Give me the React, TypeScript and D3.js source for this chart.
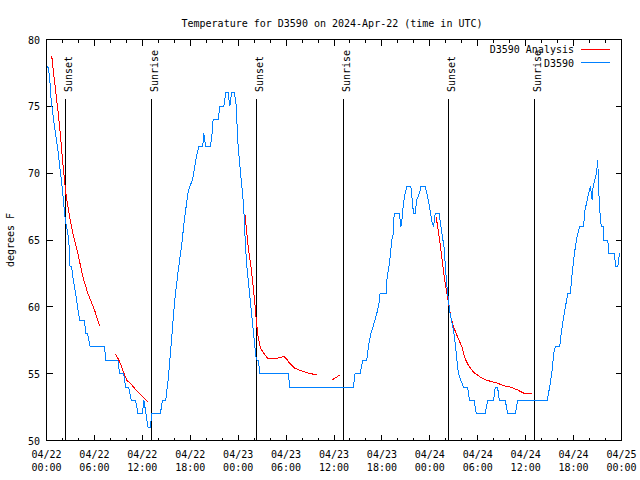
import React from 'react';
import * as d3 from 'd3';

// Hours since 2024-04-22 00:00 UTC, temperature in °F
const D3590_OBS: [number, number][] = [
  [0.16, 78], [0.38, 77.25], [0.59, 75.4], [1.0, 73.5], [1.42, 71.75], [1.76, 70], [2.04, 68.5],
  [2.17, 67.6], [2.35, 66.5], [2.67, 65.5], [2.89, 64.2], [2.95, 63], [3.14, 63], [3.3, 62.25],
  [3.64, 61], [3.8, 60.4], [4.14, 59], [4.77, 59], [4.89, 58], [5.14, 58], [5.48, 57], [7.28, 57],
  [7.4, 56], [8.94, 56], [9.16, 55], [9.66, 55], [9.91, 54], [10.29, 54], [10.62, 53], [11.16, 53],
  [11.45, 52], [12.0, 52], [12.2, 53], [12.71, 51], [13.01, 51], [13.17, 52], [14.26, 52],
  [14.51, 53], [14.93, 53], [15.22, 54.5], [15.52, 56.5], [15.77, 58.4], [16.06, 60.5],
  [16.47, 62.6], [16.9, 64.5], [17.31, 66.75], [17.72, 68.5], [17.94, 69], [18.28, 69.5],
  [18.56, 70.5], [18.78, 71.25], [19.1, 72], [19.57, 72], [19.69, 73], [19.94, 72], [20.53, 72],
  [20.79, 73.25], [20.86, 74], [21.49, 74], [21.7, 75], [22.2, 75], [22.45, 76], [22.74, 76],
  [22.96, 75], [23.17, 76], [23.5, 76], [23.71, 75.4], [24.0, 72], [24.3, 70], [24.55, 68.5],
  [24.71, 67.25], [24.84, 65.5], [25.05, 63.25], [25.38, 61.25], [25.68, 59.5], [25.97, 57.75],
  [26.22, 56.25], [26.38, 56], [26.53, 56], [26.72, 55], [30.27, 55], [30.48, 54], [38.42, 54],
  [38.63, 55], [39.26, 55], [39.6, 56], [40.1, 56], [40.3, 57], [40.6, 58], [40.93, 58.6],
  [41.36, 59.5], [41.68, 60.4], [41.77, 61], [42.52, 61], [42.61, 62], [42.94, 63.25],
  [43.24, 65], [43.44, 65.5], [43.53, 67], [44.19, 67], [44.37, 66], [44.53, 66.6], [44.7, 67.75],
  [44.91, 68.5], [45.12, 69], [45.62, 69], [45.75, 68.25], [45.95, 67], [46.16, 67], [46.37, 68],
  [46.7, 68.5], [46.88, 69], [47.42, 69], [47.63, 68.5], [47.95, 67.5], [48.26, 66.4],
  [48.46, 66], [48.67, 67], [49.17, 67], [49.39, 66], [49.64, 65], [49.8, 64.4], [49.92, 63.25],
  [50.14, 61.5], [50.34, 60.5], [50.46, 59.75], [50.68, 59.1], [50.97, 58.25], [51.18, 57.25],
  [51.39, 56], [51.59, 55], [51.89, 54.5], [52.22, 54], [52.72, 54], [52.97, 53], [53.56, 53],
  [53.81, 52], [54.94, 52], [55.23, 53], [55.98, 53], [56.19, 54], [56.48, 54], [56.7, 53],
  [57.45, 53], [57.74, 52], [58.71, 52], [58.99, 53], [62.68, 53], [63.01, 54], [63.31, 55.25],
  [63.51, 56.5], [63.72, 57], [64.26, 57], [64.44, 58], [64.69, 59], [64.98, 60], [65.27, 61],
  [65.6, 61], [65.82, 62.5], [66.1, 64], [66.44, 65.25], [66.77, 66], [67.27, 66], [67.36, 67],
  [67.7, 68], [68.11, 69], [68.33, 68], [68.45, 69], [68.87, 70], [69.03, 71], [69.12, 69],
  [69.28, 67.25], [69.46, 66], [69.71, 66], [69.78, 65], [70.28, 65], [70.41, 64], [71.12, 64],
  [71.25, 63], [71.54, 63], [71.75, 64],
];

// Analysis series; NaN marks a gap
const D3590_ANALYSIS: [number, number][] = [
  [0.66, 78.75], [0.88, 77.5], [1.13, 76.25], [1.42, 74.75], [1.72, 73], [1.97, 71.25],
  [2.17, 70], [2.47, 68.25], [2.89, 66.75], [3.3, 65.5], [3.93, 64], [4.55, 62.25], [5.18, 61],
  [6.02, 59.75], [6.65, 58.6],
  [7.5, NaN],
  [8.66, 56.45], [9.16, 55.9], [9.66, 55.1], [10.07, 54.5], [10.62, 54.2], [11.25, 53.75],
  [12.08, 53.25], [12.71, 52.9],
  [18, NaN],
  [24.84, 66.95], [25.05, 65.75], [25.25, 64.5], [25.55, 63.25], [25.8, 62], [26.09, 60.25],
  [26.3, 58.75], [26.5, 57.75], [26.81, 56.9], [27.35, 56.4], [27.76, 56.1], [28.39, 56.1],
  [29.23, 56.2], [29.73, 56.3], [30.07, 56.1], [30.48, 55.75], [31.11, 55.4], [31.95, 55.2],
  [32.78, 55.05], [33.83, 54.9],
  [34.8, NaN],
  [35.79, 54.55], [36.34, 54.75], [36.75, 54.9],
  [42, NaN],
  [48.8, 66.7], [49.08, 65.6], [49.39, 64.25], [49.64, 63], [49.92, 61.75], [50.14, 61],
  [50.34, 60.25], [50.64, 59.2], [50.97, 58.5], [51.47, 57.75], [52.02, 57], [52.43, 56.1],
  [52.85, 55.6], [53.48, 55.1], [54.32, 54.75], [55.16, 54.5], [56.41, 54.3], [57.24, 54.1],
  [58.08, 54], [58.92, 53.8], [59.75, 53.55], [60.8, 53.5],
];

const SUNSET_HOURS = [2.38, 26.3, 50.34];
const SUNRISE_HOURS = [13.15, 37.19, 61.1];

const TITLE = 'Temperature for D3590 on 2024-Apr-22 (time in UTC)';
const Y_LABEL = 'degrees F';
const SERIES_NAMES = ['D3590 Analysis', 'D3590'];
const SERIES_COLORS = ['#ff0000', '#0080ff'];
const Y_TICKS = [50, 55, 60, 65, 70, 75, 80];

const START = Date.UTC(2024, 3, 22, 0, 0);
const END = Date.UTC(2024, 3, 25, 0, 0);
const toDate = (h: number) => new Date(START + h * 3600 * 1000);

const FONT = "'DejaVu Sans Mono', 'Liberation Mono', monospace";

export default function App() {
  const L = 46.5, R = 621.5, T = 39.5, B = 440.5;
  const x = d3.scaleUtc().domain([new Date(START), new Date(END)]).range([L, R]);
  const y = d3.scaleLinear().domain([50, 80]).range([B, T]);

  const major = x.ticks(d3.utcHour.every(6)!);
  const minorAll = x.ticks(d3.utcHour.every(2)!);
  const minor = minorAll.filter((d) => d.getUTCHours() % 6 !== 0);

  const line = d3
    .line<[number, number]>()
    .defined((d) => !isNaN(d[1]))
    .x((d) => x(toDate(d[0])))
    .y((d) => y(d[1]));

  const fmtDate = d3.utcFormat('%m/%d');
  const fmtTime = d3.utcFormat('%H:%M');
  const snap = (v: number) => Math.floor(v) + 0.5;

  const events = [
    ...SUNSET_HOURS.map((h) => ({ h, label: 'Sunset' })),
    ...SUNRISE_HOURS.map((h) => ({ h, label: 'Sunrise' })),
  ];

  return (
    <svg
      width={640}
      height={480}
      style={{ position: 'absolute', left: 0, top: 0, background: '#fff' }}
      fontFamily={FONT}
      fontSize={10}
    >
      <rect x={0} y={0} width={640} height={480} fill="#fff" />
      <text x={332} y={27} textAnchor="middle" fill="#000">
        {TITLE}
      </text>

      {/* y ticks and labels */}
      {Y_TICKS.map((v) => (
        <g key={'y' + v}>
          <line x1={L} x2={L + 6} y1={snap(y(v))} y2={snap(y(v))} stroke="#000" shapeRendering="crispEdges" />
          <line x1={R} x2={R - 6} y1={snap(y(v))} y2={snap(y(v))} stroke="#000" shapeRendering="crispEdges" />
          <text x={40} y={y(v) + 4} textAnchor="end" fill="#000">
            {v}
          </text>
        </g>
      ))}

      {/* x ticks */}
      {major.map((d, i) => {
        const px = snap(x(d));
        return (
          <g key={'xm' + i}>
            <line x1={px} x2={px} y1={B} y2={B - 6} stroke="#000" shapeRendering="crispEdges" />
            <line x1={px} x2={px} y1={T} y2={T + 6} stroke="#000" shapeRendering="crispEdges" />
            <text x={x(d)} y={458} textAnchor="middle" fill="#000">
              {fmtDate(d)}
            </text>
            <text x={x(d)} y={471} textAnchor="middle" fill="#000">
              {fmtTime(d)}
            </text>
          </g>
        );
      })}
      {minor.map((d, i) => {
        const px = snap(x(d));
        return (
          <g key={'xn' + i}>
            <line x1={px} x2={px} y1={B} y2={B - 3} stroke="#000" shapeRendering="crispEdges" />
            <line x1={px} x2={px} y1={T} y2={T + 3} stroke="#000" shapeRendering="crispEdges" />
          </g>
        );
      })}

      {/* y label */}
      <text transform={`translate(14,240) rotate(-90)`} textAnchor="middle" fill="#000">
        {Y_LABEL}
      </text>

      {/* sun events */}
      {events.map((e, i) => {
        const px = snap(x(toDate(e.h)));
        return (
          <g key={'ev' + i}>
            <line x1={px} x2={px} y1={99} y2={B} stroke="#000" shapeRendering="crispEdges" />
            <text transform={`translate(${px + 6},92) rotate(-90)`} textAnchor="start" fill="#000">
              {e.label}
            </text>
          </g>
        );
      })}

      {/* data */}
      <path d={line(D3590_ANALYSIS) || ''} fill="none" stroke={SERIES_COLORS[0]} strokeWidth={1} shapeRendering="crispEdges" />
      <path d={line(D3590_OBS) || ''} fill="none" stroke={SERIES_COLORS[1]} strokeWidth={1} shapeRendering="crispEdges" />

      {/* legend */}
      <text x={574} y={53} textAnchor="end" fill="#000">
        {SERIES_NAMES[0]}
      </text>
      <line x1={581} x2={610} y1={49.5} y2={49.5} stroke={SERIES_COLORS[0]} shapeRendering="crispEdges" />
      <text x={574} y={66.5} textAnchor="end" fill="#000">
        {SERIES_NAMES[1]}
      </text>
      <line x1={581} x2={610} y1={62.5} y2={62.5} stroke={SERIES_COLORS[1]} shapeRendering="crispEdges" />

      {/* border */}
      <rect x={L} y={T} width={R - L} height={B - T} fill="none" stroke="#000" shapeRendering="crispEdges" />
    </svg>
  );
}
